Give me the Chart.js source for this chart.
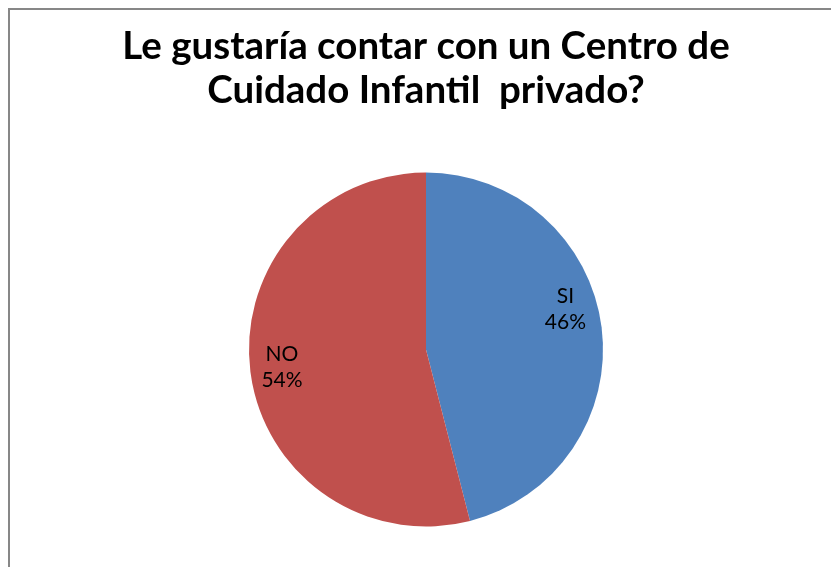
<!DOCTYPE html>
<html>
<head>
<meta charset="utf-8">
<script src="https://cdn.jsdelivr.net/npm/chart.js@4"></script>
<style>
    html, body { margin: 0; padding: 0; background: #fff; overflow: hidden; }
    #wrap { position: relative; width: 831px; height: 567px; }
    #frame {
        position: absolute; left: 8px; top: 8px; width: 860px; height: 600px;
        border: 2px solid #878787; box-sizing: border-box;
    }
    #chart { position: absolute; left: 0; top: 0; }
</style>
</head>
<body>
<div id="wrap">
    <div id="frame"></div>
    <canvas id="chart" width="831" height="567"></canvas>
</div>
<script>
// Chart data
const titleLines = ["Le gustaría contar con un Centro de", "Cuidado Infantil  privado?"];
const categories = ["SI", "NO"];
const percentages = [46, 54];
const sliceColors = ["#4F81BD", "#C0504D"];

// Draws "label / value%" inside each slice, like the office-style data labels
const sliceLabels = {
    id: "sliceLabels",
    afterDatasetsDraw(chart, args, opts) {
        const ctx = chart.ctx;
        const meta = chart.getDatasetMeta(0);
        ctx.save();
        ctx.font = "21px Lato";
        ctx.fillStyle = "#000";
        ctx.textAlign = "center";
        ctx.textBaseline = "middle";
        meta.data.forEach((arc, i) => {
            const p = arc.getProps(["x", "y", "startAngle", "endAngle", "outerRadius"], true);
            // best-fit nudge (degrees) so labels sit where office put them
            const mid = (p.startAngle + p.endAngle) / 2 + (opts.nudge[i] || 0) * Math.PI / 180;
            const r = p.outerRadius * 0.82;
            const x = p.x + Math.cos(mid) * r;
            const y = p.y + Math.sin(mid) * r;
            ctx.fillText(categories[i], x, y - 13);
            ctx.fillText(percentages[i] + "%", x, y + 13);
        });
        ctx.restore();
    }
};

new Chart(document.getElementById("chart"), {
    type: "pie",
    data: {
        labels: categories,
        datasets: [{
            data: percentages,
            backgroundColor: sliceColors,
            borderWidth: 0
        }]
    },
    options: {
        responsive: false,
        animation: false,
        layout: { padding: { left: 21, right: 0, top: 0, bottom: 40.5 } },
        plugins: {
            legend: { display: false },
            tooltip: { enabled: false },
            title: {
                display: true,
                text: titleLines,
                color: "#000",
                font: { family: "Lato", size: 38.5, weight: "bold", lineHeight: 1.143 },
                padding: { top: 24.5, bottom: 60 }
            },
            sliceLabels: { nudge: [-9, 0] }
        }
    },
    plugins: [sliceLabels]
});
</script>
</body>
</html>
